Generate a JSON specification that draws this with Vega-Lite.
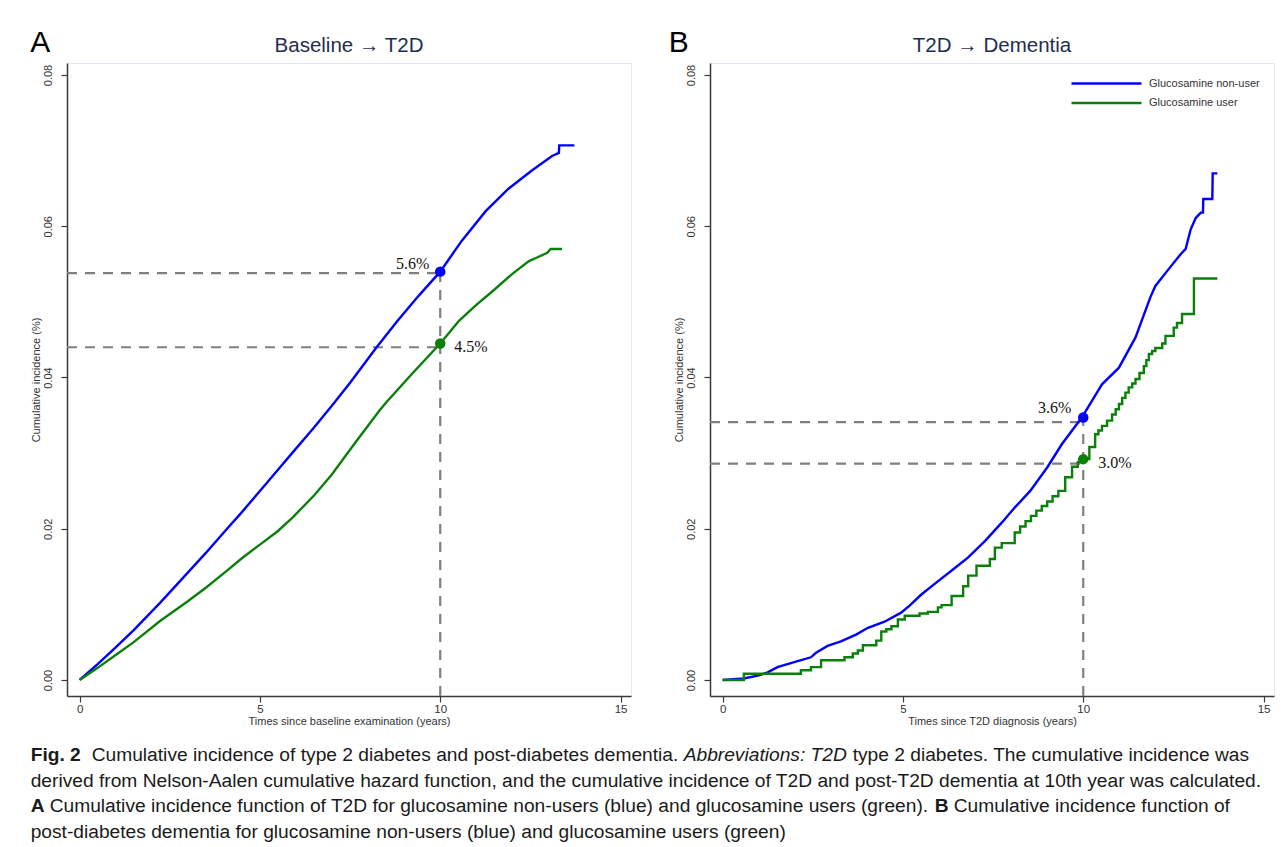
{
  "$schema": "https://vega.github.io/schema/vega-lite/v6.json",
  "background": "white",
  "padding": {"left": 29, "top": 27, "right": 4, "bottom": 2},
  "config": {
    "font": "Liberation Sans",
    "view": {"stroke": "#e3eaf2", "strokeWidth": 1},
    "axis": {
      "domainColor": "#3a3a3a", "domainWidth": 1.5, "tickColor": "#3a3a3a", "tickWidth": 1.2,
      "tickSize": 6, "labelColor": "#333333", "labelFontSize": 11, "titleColor": "#333333",
      "titleFontSize": 11, "titleFontWeight": "normal", "grid": false,
      "labelFont": "Liberation Sans", "titleFont": "Liberation Sans"
    },
    "axisX": {"labelPadding": 1, "titlePadding": 1, "labelFontSize": 11.5},
    "axisY": {"labelAngle": 270, "labelAlign": "center", "labelBaseline": "bottom", "labelPadding": 8, "titlePadding": 1}
  },
  "datasets": {
    "curves": [
      {"panel": "A", "group": "Glucosamine non-user", "t": 0, "ci": 0},
      {"panel": "A", "group": "Glucosamine non-user", "t": 0.5, "ci": 0.0021},
      {"panel": "A", "group": "Glucosamine non-user", "t": 1, "ci": 0.0043},
      {"panel": "A", "group": "Glucosamine non-user", "t": 1.5, "ci": 0.0066},
      {"panel": "A", "group": "Glucosamine non-user", "t": 2.23, "ci": 0.0102},
      {"panel": "A", "group": "Glucosamine non-user", "t": 3, "ci": 0.0142},
      {"panel": "A", "group": "Glucosamine non-user", "t": 3.5, "ci": 0.0168},
      {"panel": "A", "group": "Glucosamine non-user", "t": 4.07, "ci": 0.0199},
      {"panel": "A", "group": "Glucosamine non-user", "t": 4.5, "ci": 0.0222},
      {"panel": "A", "group": "Glucosamine non-user", "t": 5, "ci": 0.025},
      {"panel": "A", "group": "Glucosamine non-user", "t": 5.5, "ci": 0.0278},
      {"panel": "A", "group": "Glucosamine non-user", "t": 5.91, "ci": 0.0301},
      {"panel": "A", "group": "Glucosamine non-user", "t": 6.5, "ci": 0.0334},
      {"panel": "A", "group": "Glucosamine non-user", "t": 7, "ci": 0.0363},
      {"panel": "A", "group": "Glucosamine non-user", "t": 7.5, "ci": 0.0393},
      {"panel": "A", "group": "Glucosamine non-user", "t": 8.22, "ci": 0.0439},
      {"panel": "A", "group": "Glucosamine non-user", "t": 8.8, "ci": 0.0474},
      {"panel": "A", "group": "Glucosamine non-user", "t": 9.4, "ci": 0.0508},
      {"panel": "A", "group": "Glucosamine non-user", "t": 10, "ci": 0.054},
      {"panel": "A", "group": "Glucosamine non-user", "t": 10.6, "ci": 0.0581},
      {"panel": "A", "group": "Glucosamine non-user", "t": 11.26, "ci": 0.062},
      {"panel": "A", "group": "Glucosamine non-user", "t": 11.9, "ci": 0.065},
      {"panel": "A", "group": "Glucosamine non-user", "t": 12.55, "ci": 0.0674},
      {"panel": "A", "group": "Glucosamine non-user", "t": 13.1, "ci": 0.0693},
      {"panel": "A", "group": "Glucosamine non-user", "t": 13.29, "ci": 0.0697},
      {"panel": "A", "group": "Glucosamine non-user", "t": 13.3, "ci": 0.0707},
      {"panel": "A", "group": "Glucosamine non-user", "t": 13.72, "ci": 0.0707},
      {"panel": "A", "group": "Glucosamine user", "t": 0, "ci": 0},
      {"panel": "A", "group": "Glucosamine user", "t": 0.5, "ci": 0.0016},
      {"panel": "A", "group": "Glucosamine user", "t": 1, "ci": 0.0033},
      {"panel": "A", "group": "Glucosamine user", "t": 1.5, "ci": 0.005},
      {"panel": "A", "group": "Glucosamine user", "t": 2.23, "ci": 0.0078},
      {"panel": "A", "group": "Glucosamine user", "t": 3, "ci": 0.0104},
      {"panel": "A", "group": "Glucosamine user", "t": 3.5, "ci": 0.0122},
      {"panel": "A", "group": "Glucosamine user", "t": 4.07, "ci": 0.0144},
      {"panel": "A", "group": "Glucosamine user", "t": 4.5, "ci": 0.0161},
      {"panel": "A", "group": "Glucosamine user", "t": 5, "ci": 0.0179},
      {"panel": "A", "group": "Glucosamine user", "t": 5.5, "ci": 0.0197},
      {"panel": "A", "group": "Glucosamine user", "t": 5.91, "ci": 0.0215},
      {"panel": "A", "group": "Glucosamine user", "t": 6.5, "ci": 0.0244},
      {"panel": "A", "group": "Glucosamine user", "t": 7, "ci": 0.0272},
      {"panel": "A", "group": "Glucosamine user", "t": 7.6, "ci": 0.0311},
      {"panel": "A", "group": "Glucosamine user", "t": 8.31, "ci": 0.0356},
      {"panel": "A", "group": "Glucosamine user", "t": 8.5, "ci": 0.0367},
      {"panel": "A", "group": "Glucosamine user", "t": 9.2, "ci": 0.0404},
      {"panel": "A", "group": "Glucosamine user", "t": 10, "ci": 0.0445},
      {"panel": "A", "group": "Glucosamine user", "t": 10.52, "ci": 0.0475},
      {"panel": "A", "group": "Glucosamine user", "t": 11, "ci": 0.0496},
      {"panel": "A", "group": "Glucosamine user", "t": 11.45, "ci": 0.0514},
      {"panel": "A", "group": "Glucosamine user", "t": 12, "ci": 0.0537},
      {"panel": "A", "group": "Glucosamine user", "t": 12.46, "ci": 0.0554},
      {"panel": "A", "group": "Glucosamine user", "t": 12.7, "ci": 0.0559},
      {"panel": "A", "group": "Glucosamine user", "t": 12.97, "ci": 0.0565},
      {"panel": "A", "group": "Glucosamine user", "t": 13.06, "ci": 0.057},
      {"panel": "A", "group": "Glucosamine user", "t": 13.38, "ci": 0.057},
      {"panel": "B", "group": "Glucosamine non-user", "t": 0, "ci": 0},
      {"panel": "B", "group": "Glucosamine non-user", "t": 0.59, "ci": 0.0002},
      {"panel": "B", "group": "Glucosamine non-user", "t": 1, "ci": 0.0006},
      {"panel": "B", "group": "Glucosamine non-user", "t": 1.25, "ci": 0.001},
      {"panel": "B", "group": "Glucosamine non-user", "t": 1.52, "ci": 0.0017},
      {"panel": "B", "group": "Glucosamine non-user", "t": 2.08, "ci": 0.0025},
      {"panel": "B", "group": "Glucosamine non-user", "t": 2.45, "ci": 0.003},
      {"panel": "B", "group": "Glucosamine non-user", "t": 2.59, "ci": 0.0036},
      {"panel": "B", "group": "Glucosamine non-user", "t": 2.91, "ci": 0.0045},
      {"panel": "B", "group": "Glucosamine non-user", "t": 3.28, "ci": 0.0051},
      {"panel": "B", "group": "Glucosamine non-user", "t": 3.7, "ci": 0.006},
      {"panel": "B", "group": "Glucosamine non-user", "t": 4.03, "ci": 0.0069},
      {"panel": "B", "group": "Glucosamine non-user", "t": 4.49, "ci": 0.0077},
      {"panel": "B", "group": "Glucosamine non-user", "t": 4.95, "ci": 0.0089},
      {"panel": "B", "group": "Glucosamine non-user", "t": 5.2, "ci": 0.0099},
      {"panel": "B", "group": "Glucosamine non-user", "t": 5.51, "ci": 0.0113},
      {"panel": "B", "group": "Glucosamine non-user", "t": 5.88, "ci": 0.0127},
      {"panel": "B", "group": "Glucosamine non-user", "t": 6.44, "ci": 0.0148},
      {"panel": "B", "group": "Glucosamine non-user", "t": 6.81, "ci": 0.0162},
      {"panel": "B", "group": "Glucosamine non-user", "t": 7.28, "ci": 0.0184},
      {"panel": "B", "group": "Glucosamine non-user", "t": 7.74, "ci": 0.0208},
      {"panel": "B", "group": "Glucosamine non-user", "t": 8.1, "ci": 0.0228},
      {"panel": "B", "group": "Glucosamine non-user", "t": 8.53, "ci": 0.025},
      {"panel": "B", "group": "Glucosamine non-user", "t": 9, "ci": 0.0281},
      {"panel": "B", "group": "Glucosamine non-user", "t": 9.41, "ci": 0.0312},
      {"panel": "B", "group": "Glucosamine non-user", "t": 9.96, "ci": 0.0347},
      {"panel": "B", "group": "Glucosamine non-user", "t": 10.52, "ci": 0.0391},
      {"panel": "B", "group": "Glucosamine non-user", "t": 10.99, "ci": 0.0413},
      {"panel": "B", "group": "Glucosamine non-user", "t": 11.45, "ci": 0.0453},
      {"panel": "B", "group": "Glucosamine non-user", "t": 11.86, "ci": 0.0506},
      {"panel": "B", "group": "Glucosamine non-user", "t": 12, "ci": 0.0521},
      {"panel": "B", "group": "Glucosamine non-user", "t": 12.33, "ci": 0.0541},
      {"panel": "B", "group": "Glucosamine non-user", "t": 12.7, "ci": 0.0563},
      {"panel": "B", "group": "Glucosamine non-user", "t": 12.84, "ci": 0.057},
      {"panel": "B", "group": "Glucosamine non-user", "t": 12.98, "ci": 0.0596},
      {"panel": "B", "group": "Glucosamine non-user", "t": 13.12, "ci": 0.0611},
      {"panel": "B", "group": "Glucosamine non-user", "t": 13.26, "ci": 0.0618},
      {"panel": "B", "group": "Glucosamine non-user", "t": 13.32, "ci": 0.0618},
      {"panel": "B", "group": "Glucosamine non-user", "t": 13.33, "ci": 0.0636},
      {"panel": "B", "group": "Glucosamine non-user", "t": 13.58, "ci": 0.0636},
      {"panel": "B", "group": "Glucosamine non-user", "t": 13.59, "ci": 0.067},
      {"panel": "B", "group": "Glucosamine non-user", "t": 13.72, "ci": 0.067},
      {"panel": "B", "group": "Glucosamine user", "t": 0, "ci": 0},
      {"panel": "B", "group": "Glucosamine user", "t": 0.59, "ci": 0.00083},
      {"panel": "B", "group": "Glucosamine user", "t": 2.17, "ci": 0.00128},
      {"panel": "B", "group": "Glucosamine user", "t": 2.45, "ci": 0.0017},
      {"panel": "B", "group": "Glucosamine user", "t": 2.73, "ci": 0.0026},
      {"panel": "B", "group": "Glucosamine user", "t": 3.38, "ci": 0.003},
      {"panel": "B", "group": "Glucosamine user", "t": 3.61, "ci": 0.0035},
      {"panel": "B", "group": "Glucosamine user", "t": 3.75, "ci": 0.0039},
      {"panel": "B", "group": "Glucosamine user", "t": 3.89, "ci": 0.0046},
      {"panel": "B", "group": "Glucosamine user", "t": 4.26, "ci": 0.0052},
      {"panel": "B", "group": "Glucosamine user", "t": 4.4, "ci": 0.0064},
      {"panel": "B", "group": "Glucosamine user", "t": 4.54, "ci": 0.0067},
      {"panel": "B", "group": "Glucosamine user", "t": 4.68, "ci": 0.0071},
      {"panel": "B", "group": "Glucosamine user", "t": 4.86, "ci": 0.008},
      {"panel": "B", "group": "Glucosamine user", "t": 5.05, "ci": 0.0085},
      {"panel": "B", "group": "Glucosamine user", "t": 5.46, "ci": 0.0088},
      {"panel": "B", "group": "Glucosamine user", "t": 5.69, "ci": 0.009},
      {"panel": "B", "group": "Glucosamine user", "t": 5.97, "ci": 0.0096},
      {"panel": "B", "group": "Glucosamine user", "t": 6.07, "ci": 0.0099},
      {"panel": "B", "group": "Glucosamine user", "t": 6.35, "ci": 0.0111},
      {"panel": "B", "group": "Glucosamine user", "t": 6.67, "ci": 0.0124},
      {"panel": "B", "group": "Glucosamine user", "t": 6.81, "ci": 0.0138},
      {"panel": "B", "group": "Glucosamine user", "t": 7.04, "ci": 0.0151},
      {"panel": "B", "group": "Glucosamine user", "t": 7.41, "ci": 0.016},
      {"panel": "B", "group": "Glucosamine user", "t": 7.55, "ci": 0.0175},
      {"panel": "B", "group": "Glucosamine user", "t": 7.74, "ci": 0.0181},
      {"panel": "B", "group": "Glucosamine user", "t": 8.1, "ci": 0.0195},
      {"panel": "B", "group": "Glucosamine user", "t": 8.25, "ci": 0.0203},
      {"panel": "B", "group": "Glucosamine user", "t": 8.4, "ci": 0.021},
      {"panel": "B", "group": "Glucosamine user", "t": 8.55, "ci": 0.0217},
      {"panel": "B", "group": "Glucosamine user", "t": 8.7, "ci": 0.0224},
      {"panel": "B", "group": "Glucosamine user", "t": 8.85, "ci": 0.023},
      {"panel": "B", "group": "Glucosamine user", "t": 9, "ci": 0.0236},
      {"panel": "B", "group": "Glucosamine user", "t": 9.15, "ci": 0.0243},
      {"panel": "B", "group": "Glucosamine user", "t": 9.31, "ci": 0.025},
      {"panel": "B", "group": "Glucosamine user", "t": 9.5, "ci": 0.0268},
      {"panel": "B", "group": "Glucosamine user", "t": 9.69, "ci": 0.0282},
      {"panel": "B", "group": "Glucosamine user", "t": 9.85, "ci": 0.0288},
      {"panel": "B", "group": "Glucosamine user", "t": 10.01, "ci": 0.0292},
      {"panel": "B", "group": "Glucosamine user", "t": 10.17, "ci": 0.0308},
      {"panel": "B", "group": "Glucosamine user", "t": 10.33, "ci": 0.0325},
      {"panel": "B", "group": "Glucosamine user", "t": 10.42, "ci": 0.033},
      {"panel": "B", "group": "Glucosamine user", "t": 10.52, "ci": 0.0336},
      {"panel": "B", "group": "Glucosamine user", "t": 10.66, "ci": 0.0343},
      {"panel": "B", "group": "Glucosamine user", "t": 10.8, "ci": 0.0351},
      {"panel": "B", "group": "Glucosamine user", "t": 10.9, "ci": 0.0358},
      {"panel": "B", "group": "Glucosamine user", "t": 10.99, "ci": 0.0365},
      {"panel": "B", "group": "Glucosamine user", "t": 11.08, "ci": 0.0373},
      {"panel": "B", "group": "Glucosamine user", "t": 11.17, "ci": 0.038},
      {"panel": "B", "group": "Glucosamine user", "t": 11.26, "ci": 0.0387},
      {"panel": "B", "group": "Glucosamine user", "t": 11.36, "ci": 0.0392},
      {"panel": "B", "group": "Glucosamine user", "t": 11.45, "ci": 0.0398},
      {"panel": "B", "group": "Glucosamine user", "t": 11.56, "ci": 0.0406},
      {"panel": "B", "group": "Glucosamine user", "t": 11.68, "ci": 0.0415},
      {"panel": "B", "group": "Glucosamine user", "t": 11.75, "ci": 0.0423},
      {"panel": "B", "group": "Glucosamine user", "t": 11.82, "ci": 0.0431},
      {"panel": "B", "group": "Glucosamine user", "t": 11.91, "ci": 0.0435},
      {"panel": "B", "group": "Glucosamine user", "t": 12, "ci": 0.0439},
      {"panel": "B", "group": "Glucosamine user", "t": 12.19, "ci": 0.0445},
      {"panel": "B", "group": "Glucosamine user", "t": 12.28, "ci": 0.0455},
      {"panel": "B", "group": "Glucosamine user", "t": 12.51, "ci": 0.0466},
      {"panel": "B", "group": "Glucosamine user", "t": 12.6, "ci": 0.0472},
      {"panel": "B", "group": "Glucosamine user", "t": 12.74, "ci": 0.0484},
      {"panel": "B", "group": "Glucosamine user", "t": 13.07, "ci": 0.0531},
      {"panel": "B", "group": "Glucosamine user", "t": 13.72, "ci": 0.0531}
    ],
    "dashes": [
      {"panel": "A", "seg": "h1", "t": -0.35, "ci": 0.0538},
      {"panel": "A", "seg": "h1", "t": 10, "ci": 0.0538},
      {"panel": "A", "seg": "h2", "t": -0.35, "ci": 0.044},
      {"panel": "A", "seg": "h2", "t": 10, "ci": 0.044},
      {"panel": "A", "seg": "v", "t": 10, "ci": -0.00212},
      {"panel": "A", "seg": "v", "t": 10, "ci": 0.054},
      {"panel": "B", "seg": "h1", "t": -0.35, "ci": 0.0341},
      {"panel": "B", "seg": "h1", "t": 10, "ci": 0.0341},
      {"panel": "B", "seg": "h2", "t": -0.35, "ci": 0.0286},
      {"panel": "B", "seg": "h2", "t": 10, "ci": 0.0286},
      {"panel": "B", "seg": "v", "t": 10, "ci": -0.00212},
      {"panel": "B", "seg": "v", "t": 10, "ci": 0.0347}
    ],
    "markers": [
      {"panel": "A", "group": "Glucosamine non-user", "t": 10, "ci": 0.054, "label": "5.6%"},
      {"panel": "A", "group": "Glucosamine user", "t": 10, "ci": 0.0445, "label": "4.5%"},
      {"panel": "B", "group": "Glucosamine non-user", "t": 10, "ci": 0.0347, "label": "3.6%"},
      {"panel": "B", "group": "Glucosamine user", "t": 10, "ci": 0.0292, "label": "3.0%"}
    ],
    "caption": [
      {"line": 1, "seg": "lead", "text": "Fig. 2"},
      {"line": 1, "seg": "l1a", "text": "Cumulative incidence of type 2 diabetes and post-diabetes dementia."},
      {"line": 1, "seg": "l1i", "text": "Abbreviations: T2D"},
      {"line": 1, "seg": "l1b", "text": "type 2 diabetes. The cumulative incidence was"},
      {"line": 2, "seg": "full", "text": "derived from Nelson-Aalen cumulative hazard function, and the cumulative incidence of T2D and post-T2D dementia at 10th year was calculated."},
      {"line": 3, "seg": "lead", "text": "A"},
      {"line": 3, "seg": "l3a", "text": "Cumulative incidence function of T2D for glucosamine non-users (blue) and glucosamine users (green)."},
      {"line": 3, "seg": "l3B", "text": "B"},
      {"line": 3, "seg": "l3b", "text": "Cumulative incidence function of"},
      {"line": 4, "seg": "full", "text": "post-diabetes dementia for glucosamine non-users (blue) and glucosamine users (green)"}
    ]
  },
  "vconcat": [
    {
      "hconcat": [
        {
          "width": 564,
          "height": 633,
          "layer": [
            {"data": {"name": "dashes"}, "transform": [{"filter": "datum.panel === 'A'"}],
             "mark": {"type": "line", "color": "#7f7f7f", "strokeWidth": 2.2, "strokeDash": [10, 8]},
             "encoding": {
               "x": {"field": "t", "type": "quantitative", "title": "Times since baseline examination (years)",
                     "scale": {"domain": [-0.35, 15.29], "nice": false, "zero": false}, "axis": {"values": [0, 5, 10, 15]}},
               "y": {"field": "ci", "type": "quantitative", "title": "Cumulative incidence (%)",
                     "scale": {"domain": [-0.00212, 0.08159], "nice": false, "zero": false}, "axis": {"values": [0, 0.02, 0.04, 0.06, 0.08], "format": ".2f"}},
               "detail": {"field": "seg"}}},
            {"data": {"name": "curves"}, "transform": [{"filter": "datum.panel === 'A'"}],
             "mark": {"type": "line", "strokeWidth": 2.4},
             "encoding": {
               "x": {"field": "t", "type": "quantitative", "title": "Times since baseline examination (years)"},
               "y": {"field": "ci", "type": "quantitative", "title": "Cumulative incidence (%)"},
               "color": {"field": "group", "type": "nominal",
               "scale": {"domain": ["Glucosamine non-user", "Glucosamine user"], "range": ["#0000ff", "#0a800a"]}, "legend": null}}},
            {"data": {"name": "markers"}, "transform": [{"filter": "datum.panel === 'A' && datum.group === 'Glucosamine non-user'"}],
             "mark": {"type": "point", "filled": true, "size": 110, "opacity": 1, "color": "#0000ff"},
             "encoding": {
               "x": {"field": "t", "type": "quantitative", "title": "Times since baseline examination (years)"},
               "y": {"field": "ci", "type": "quantitative", "title": "Cumulative incidence (%)"}}},
            {"data": {"name": "markers"}, "transform": [{"filter": "datum.panel === 'A' && datum.group === 'Glucosamine user'"}],
             "mark": {"type": "point", "filled": true, "size": 110, "opacity": 1, "color": "#0a800a"},
             "encoding": {
               "x": {"field": "t", "type": "quantitative", "title": "Times since baseline examination (years)"},
               "y": {"field": "ci", "type": "quantitative", "title": "Cumulative incidence (%)"}}},
            {"data": {"name": "markers"}, "transform": [{"filter": "datum.panel === 'A' && datum.group === 'Glucosamine non-user'"}],
             "mark": {"type": "text", "align": "right", "baseline": "middle", "dx": -11, "dy": -8, "font": "Liberation Serif", "fontSize": 16, "color": "#111111"},
             "encoding": {
               "x": {"field": "t", "type": "quantitative", "title": "Times since baseline examination (years)"},
               "y": {"field": "ci", "type": "quantitative", "title": "Cumulative incidence (%)"},
               "text": {"field": "label"}}},
            {"data": {"name": "markers"}, "transform": [{"filter": "datum.panel === 'A' && datum.group === 'Glucosamine user'"}],
             "mark": {"type": "text", "align": "left", "baseline": "middle", "dx": 14, "dy": 4, "font": "Liberation Serif", "fontSize": 16, "color": "#111111"},
             "encoding": {
               "x": {"field": "t", "type": "quantitative", "title": "Times since baseline examination (years)"},
               "y": {"field": "ci", "type": "quantitative", "title": "Cumulative incidence (%)"},
               "text": {"field": "label"}}},
            {"data": {"values": [{}]},
             "mark": {"type": "text", "align": "center", "baseline": "middle", "fontSize": 30, "font": "Liberation Sans", "color": "#000000"},
             "encoding": {"x": {"datum": -1.09, "type": "quantitative"}, "y": {"datum": 0.0842, "type": "quantitative"}, "text": {"value": "A"}}},
            {"data": {"values": [{}]},
             "mark": {"type": "text", "align": "center", "baseline": "middle", "fontSize": 20.5, "font": "Liberation Sans", "color": "#1f2d4e"},
             "encoding": {"x": {"datum": 7.47, "type": "quantitative"}, "y": {"datum": 0.08384, "type": "quantitative"}, "text": {"value": "Baseline → T2D"}}}
          ]
        },
        {
          "width": 564,
          "height": 633,
          "layer": [
            {"data": {"name": "dashes"}, "transform": [{"filter": "datum.panel === 'B'"}],
             "mark": {"type": "line", "color": "#7f7f7f", "strokeWidth": 2.2, "strokeDash": [10, 8]},
             "encoding": {
               "x": {"field": "t", "type": "quantitative", "title": "Times since T2D diagnosis (years)",
                     "scale": {"domain": [-0.35, 15.29], "nice": false, "zero": false}, "axis": {"values": [0, 5, 10, 15]}},
               "y": {"field": "ci", "type": "quantitative", "title": "Cumulative incidence (%)",
                     "scale": {"domain": [-0.00212, 0.08159], "nice": false, "zero": false}, "axis": {"values": [0, 0.02, 0.04, 0.06, 0.08], "format": ".2f"}},
               "detail": {"field": "seg"}}},
            {"data": {"name": "curves"}, "transform": [{"filter": "datum.panel === 'B' && datum.group === 'Glucosamine non-user'"}],
             "mark": {"type": "line", "strokeWidth": 2.4},
             "encoding": {
               "x": {"field": "t", "type": "quantitative", "title": "Times since T2D diagnosis (years)"},
               "y": {"field": "ci", "type": "quantitative", "title": "Cumulative incidence (%)"},
               "color": {"field": "group", "type": "nominal",
               "scale": {"domain": ["Glucosamine non-user", "Glucosamine user"], "range": ["#0000ff", "#0a800a"]},
               "legend": {"title": null, "orient": "top-right", "offset": 14, "symbolType": "M-7,0H7", "symbolSize": 100,
                          "symbolStrokeWidth": 2.5, "labelFontSize": 11, "labelColor": "#333333", "labelFont": "Liberation Sans",
                          "labelOffset": 36, "rowPadding": 7.5, "padding": 0}}}},
            {"data": {"name": "curves"}, "transform": [{"filter": "datum.panel === 'B' && datum.group === 'Glucosamine user'"}],
             "mark": {"type": "line", "strokeWidth": 2.4, "interpolate": "step-after"},
             "encoding": {
               "x": {"field": "t", "type": "quantitative", "title": "Times since T2D diagnosis (years)"},
               "y": {"field": "ci", "type": "quantitative", "title": "Cumulative incidence (%)"},
               "color": {"field": "group", "type": "nominal",
               "scale": {"domain": ["Glucosamine non-user", "Glucosamine user"], "range": ["#0000ff", "#0a800a"]}}}},
            {"data": {"name": "markers"}, "transform": [{"filter": "datum.panel === 'B' && datum.group === 'Glucosamine non-user'"}],
             "mark": {"type": "point", "filled": true, "size": 110, "opacity": 1, "color": "#0000ff"},
             "encoding": {
               "x": {"field": "t", "type": "quantitative", "title": "Times since T2D diagnosis (years)"},
               "y": {"field": "ci", "type": "quantitative", "title": "Cumulative incidence (%)"}}},
            {"data": {"name": "markers"}, "transform": [{"filter": "datum.panel === 'B' && datum.group === 'Glucosamine user'"}],
             "mark": {"type": "point", "filled": true, "size": 110, "opacity": 1, "color": "#0a800a"},
             "encoding": {
               "x": {"field": "t", "type": "quantitative", "title": "Times since T2D diagnosis (years)"},
               "y": {"field": "ci", "type": "quantitative", "title": "Cumulative incidence (%)"}}},
            {"data": {"name": "markers"}, "transform": [{"filter": "datum.panel === 'B' && datum.group === 'Glucosamine non-user'"}],
             "mark": {"type": "text", "align": "right", "baseline": "middle", "dx": -12, "dy": -10, "font": "Liberation Serif", "fontSize": 16, "color": "#111111"},
             "encoding": {
               "x": {"field": "t", "type": "quantitative", "title": "Times since T2D diagnosis (years)"},
               "y": {"field": "ci", "type": "quantitative", "title": "Cumulative incidence (%)"},
               "text": {"field": "label"}}},
            {"data": {"name": "markers"}, "transform": [{"filter": "datum.panel === 'B' && datum.group === 'Glucosamine user'"}],
             "mark": {"type": "text", "align": "left", "baseline": "middle", "dx": 15, "dy": 4, "font": "Liberation Serif", "fontSize": 16, "color": "#111111"},
             "encoding": {
               "x": {"field": "t", "type": "quantitative", "title": "Times since T2D diagnosis (years)"},
               "y": {"field": "ci", "type": "quantitative", "title": "Cumulative incidence (%)"},
               "text": {"field": "label"}}},
            {"data": {"values": [{}]},
             "mark": {"type": "text", "align": "center", "baseline": "middle", "fontSize": 30, "font": "Liberation Sans", "color": "#000000"},
             "encoding": {"x": {"datum": -1.22, "type": "quantitative"}, "y": {"datum": 0.0842, "type": "quantitative"}, "text": {"value": "B"}}},
            {"data": {"values": [{}]},
             "mark": {"type": "text", "align": "center", "baseline": "middle", "fontSize": 20.5, "font": "Liberation Sans", "color": "#1f2d4e"},
             "encoding": {"x": {"datum": 7.47, "type": "quantitative"}, "y": {"datum": 0.08384, "type": "quantitative"}, "text": {"value": "T2D → Dementia"}}}
          ]
        }
      ],
      "spacing": 36,
      "resolve": {"scale": {"color": "independent"}, "legend": {"color": "independent"}}
    },
    {
      "width": 1240,
      "height": {"step": 25.7},
      "view": {"stroke": null},
      "data": {"name": "caption"},
      "encoding": {
        "y": {"field": "line", "type": "ordinal", "axis": null},
        "x": {"datum": -0.0293, "type": "quantitative", "scale": {"domain": [0, 1]}, "axis": null},
        "text": {"field": "text"}
      },
      "layer": [
        {"transform": [{"filter": "datum.seg === 'lead'"}], "mark": {"type": "text", "align": "left", "baseline": "middle", "fontWeight": "bold", "fontSize": 19.2, "font": "Liberation Sans", "color": "#1a1a1a"}},
        {"transform": [{"filter": "datum.seg === 'full'"}], "mark": {"type": "text", "align": "left", "baseline": "middle", "fontSize": 19.2, "font": "Liberation Sans", "color": "#1a1a1a"}},
        {"transform": [{"filter": "datum.seg === 'l1a'"}], "mark": {"type": "text", "align": "left", "baseline": "middle", "dx": 61, "fontSize": 19.2, "font": "Liberation Sans", "color": "#1a1a1a"}},
        {"transform": [{"filter": "datum.seg === 'l1i'"}], "mark": {"type": "text", "align": "left", "baseline": "middle", "dx": 653, "fontStyle": "italic", "fontSize": 19.2, "font": "Liberation Sans", "color": "#1a1a1a"}},
        {"transform": [{"filter": "datum.seg === 'l1b'"}], "mark": {"type": "text", "align": "left", "baseline": "middle", "dx": 822, "fontSize": 19.2, "font": "Liberation Sans", "color": "#1a1a1a"}},
        {"transform": [{"filter": "datum.seg === 'l3a'"}], "mark": {"type": "text", "align": "left", "baseline": "middle", "dx": 19, "fontSize": 19.2, "font": "Liberation Sans", "color": "#1a1a1a"}},
        {"transform": [{"filter": "datum.seg === 'l3B'"}], "mark": {"type": "text", "align": "left", "baseline": "middle", "dx": 904, "fontWeight": "bold", "fontSize": 19.2, "font": "Liberation Sans", "color": "#1a1a1a"}},
        {"transform": [{"filter": "datum.seg === 'l3b'"}], "mark": {"type": "text", "align": "left", "baseline": "middle", "dx": 923, "fontSize": 19.2, "font": "Liberation Sans", "color": "#1a1a1a"}}
      ]
    }
  ],
  "spacing": 15
}
